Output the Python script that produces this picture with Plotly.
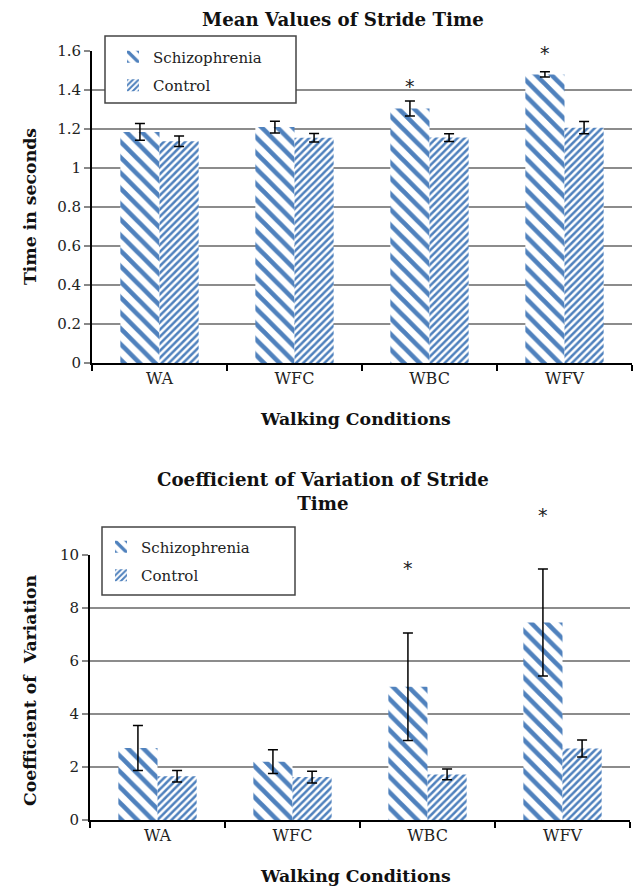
import plotly.graph_objects as go

categories = ["WA", "WFC", "WBC", "WFV"]

# Top chart: mean stride time (s)
mean_schizo = [1.185, 1.21, 1.305, 1.48]
mean_schizo_err = [0.043, 0.03, 0.038, 0.013]
mean_control = [1.137, 1.155, 1.156, 1.207]
mean_control_err = [0.027, 0.022, 0.02, 0.031]
mean_star_cats = ["WBC", "WFV"]
mean_star_y = [1.42, 1.59]

# Bottom chart: coefficient of variation
cv_schizo = [2.72, 2.2, 5.03, 7.45]
cv_schizo_err = [0.85, 0.45, 2.03, 2.02]
cv_control = [1.65, 1.62, 1.72, 2.7]
cv_control_err = [0.22, 0.22, 0.2, 0.32]
cv_star_cats = ["WBC", "WFV"]
cv_star_y = [9.5, 11.5]

W, H = 638, 889
BLUE = "#4F81BD"
SERIF = "DejaVu Serif"

def px_x(p):
    return p / W

def px_y(p):
    return 1 - p / H

schizo_pattern = dict(shape="\\", fgcolor=BLUE, bgcolor="white", size=11, solidity=0.42, fillmode="replace")
control_pattern = dict(shape="/", fgcolor=BLUE, bgcolor="white", size=5, solidity=0.5, fillmode="replace")

err_style = dict(type="data", color="black", thickness=1.5, width=5, visible=True)

fig = go.Figure()

def bar(y, err, name, pattern, xa, ya, leg, grp):
    return go.Bar(x=categories, y=y, name=name,
                  marker=dict(color="white", pattern=pattern, line=dict(width=0)),
                  error_y=dict(array=err, **err_style),
                  xaxis=xa, yaxis=ya, legend=leg, legendgroup=grp)

fig.add_trace(bar(mean_schizo, mean_schizo_err, "Schizophrenia", schizo_pattern, "x", "y", "legend", "a1"))
fig.add_trace(bar(mean_control, mean_control_err, "Control", control_pattern, "x", "y", "legend", "a2"))
fig.add_trace(bar(cv_schizo, cv_schizo_err, "Schizophrenia", schizo_pattern, "x2", "y2", "legend2", "b1"))
fig.add_trace(bar(cv_control, cv_control_err, "Control", control_pattern, "x2", "y2", "legend2", "b2"))

xaxis_common = dict(type="category", showline=True, linecolor="black", linewidth=2,
                    ticks="outside", tickson="boundaries", ticklen=6, tickcolor="black", tickwidth=2,
                    showgrid=False, tickfont=dict(family=SERIF, size=16, color="#222"),
                    automargin=False, fixedrange=True)
yaxis_common = dict(showline=True, linecolor="black", linewidth=2, ticks="outside", ticklen=6,
                    tickcolor="#888", tickwidth=2, showgrid=True, gridcolor="#8c8c8c", gridwidth=2,
                    zeroline=False, tickfont=dict(family=SERIF, size=15, color="#222"),
                    automargin=False, fixedrange=True)

legend_common = dict(xanchor="left", yanchor="top", bgcolor="rgba(0,0,0,0)",
                     borderwidth=0, font=dict(family=SERIF, size=15, color="#222"),
                     tracegroupgap=6, traceorder="grouped", itemsizing="constant")

# legend frames (white boxes with dark border)
box_style = dict(type="rect", xref="paper", yref="paper", layer="above",
                 line=dict(color="#444", width=1.5), fillcolor="white")
shapes = [
    dict(x0=px_x(105), x1=px_x(296), y0=px_y(103), y1=px_y(36), **box_style),
    dict(x0=px_x(102), x1=px_x(295), y0=px_y(595), y1=px_y(527), **box_style),
]

fig.update_layout(
    width=W, height=H, margin=dict(l=0, r=0, t=0, b=0, autoexpand=False),
    paper_bgcolor="white", plot_bgcolor="white",
    barmode="group", bargap=0.42, bargroupgap=0,
    xaxis=dict(domain=[px_x(92), px_x(632)], anchor="y", **xaxis_common),
    yaxis=dict(domain=[px_y(363), px_y(51)], anchor="x", range=[0, 1.6], dtick=0.2, **yaxis_common),
    xaxis2=dict(domain=[px_x(90), px_x(630)], anchor="y2", **xaxis_common),
    yaxis2=dict(domain=[px_y(820), px_y(555)], anchor="x2", range=[0, 10], dtick=2, **yaxis_common),
    legend=dict(x=px_x(113), y=px_y(40.5), **legend_common),
    legend2=dict(x=px_x(101), y=px_y(530.5), **legend_common),
    showlegend=True,
    shapes=shapes,
)

title_font = dict(family=SERIF, size=18.2, color="#111")
axis_title_font = dict(family=SERIF, size=17.3, color="#111")
annotations = [
    dict(text="<b>Mean Values of Stride Time</b>", x=px_x(343), y=px_y(19), xref="paper", yref="paper",
         showarrow=False, font=title_font, xanchor="center", yanchor="middle"),
    dict(text="<b>Walking Conditions</b>", x=px_x(355), y=px_y(419), xref="paper", yref="paper",
         showarrow=False, font=axis_title_font, xanchor="center", yanchor="middle"),
    dict(text="<b>Time in seconds</b>", x=px_x(30), y=px_y(207), xref="paper", yref="paper",
         showarrow=False, font=axis_title_font, textangle=-90, xanchor="center", yanchor="middle"),
    dict(text="<b>Coefficient of Variation of Stride<br>Time</b>", x=px_x(323), y=px_y(492), xref="paper", yref="paper",
         showarrow=False, font=title_font, xanchor="center", yanchor="middle"),
    dict(text="<b>Walking Conditions</b>", x=px_x(355), y=px_y(876), xref="paper", yref="paper",
         showarrow=False, font=axis_title_font, xanchor="center", yanchor="middle"),
    dict(text="<b>Coefficient of  Variation</b>", x=px_x(30), y=px_y(690), xref="paper", yref="paper",
         showarrow=False, font=axis_title_font, textangle=-90, xanchor="center", yanchor="middle"),
]
star_font = dict(family="DejaVu Sans", size=19, color="#222")
for c, yv in zip(mean_star_cats, mean_star_y):
    annotations.append(dict(text="*", x=c, y=yv / 1.6, xref="x", yref="y domain", xshift=-20,
                            showarrow=False, font=star_font, yanchor="middle"))
for c, yv in zip(cv_star_cats, cv_star_y):
    annotations.append(dict(text="*", x=c, y=yv / 10, xref="x2", yref="y2 domain", xshift=-20,
                            showarrow=False, font=star_font, yanchor="middle"))
fig.update_layout(annotations=annotations)

fig.write_html("out.html", config={"displayModeBar": False},
               post_script="document.body.style.margin='0';document.body.style.overflow='hidden';")
